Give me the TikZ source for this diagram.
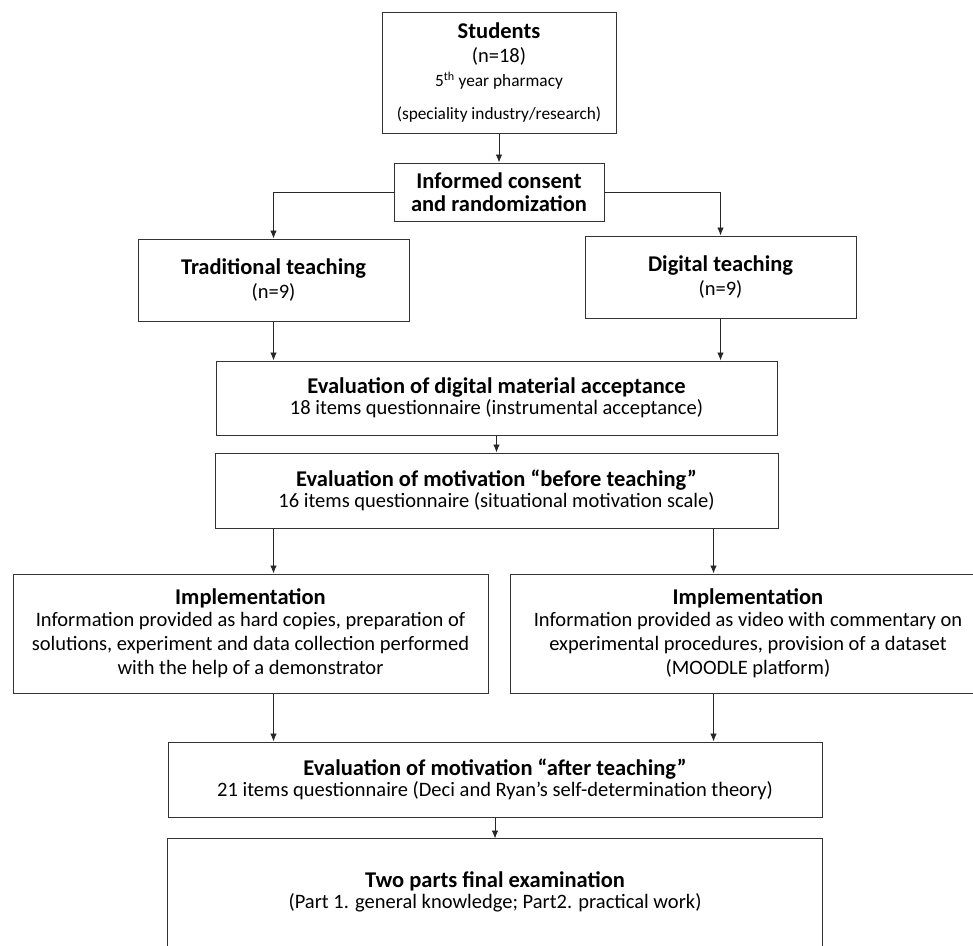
\documentclass[tikz,border=0pt]{standalone}
\usepackage{fontspec}
\setmainfont{Carlito}
\usetikzlibrary{positioning,arrows.meta}

\tikzset{
	stage/.style={draw=black!80, line width=1pt, align=center, inner sep=2pt,
		font=\fontsize{20.5}{24}\selectfont},
	flow/.style={-{Latex[length=8pt,width=6.5pt]}, line width=0.9pt, draw=black!85},
}
\newcommand{\stagehead}[1]{{\fontsize{22.5}{27}\selectfont\bfseries #1}}
\newcommand{\stagesmall}[1]{{\fontsize{17.3}{19}\selectfont #1}}

\begin{document}
\begin{tikzpicture}[x=1pt,y=1pt]
\useasboundingbox (0,0) rectangle (973,-945);

% Students
\node [stage,
	minimum width=234pt,
	minimum height=121pt,
] (students) at (499,-72.5) {
\stagehead{Students}\\
(n=18)\\
\stagesmall{5\textsuperscript{th} year pharmacy}\\[9pt]
\stagesmall{(speciality industry/research)}
};

% Informed consent
\node [stage,
	minimum width=210pt,
	minimum height=58pt,
	below = 29pt of students
] (consent) {
\stagehead{Informed consent}\\[-1pt]
\stagehead{and randomization}
};

% Traditional teaching
\node [stage,
	minimum width=271pt,
	minimum height=82pt,
] (trad) at (273.5,-280) {
\stagehead{Traditional teaching}\\
(n=9)
};

% Digital teaching
\node [stage,
	minimum width=271pt,
	minimum height=82pt,
] (digital) at (720.5,-277) {
\stagehead{Digital teaching}\\
(n=9)
};

% Acceptance
\node [stage,
	minimum width=561pt,
	minimum height=74pt,
] (eval1) at (496.5,-398) {
\stagehead{Evaluation of digital material acceptance}\\[-3pt]
18 items questionnaire (instrumental acceptance)
};

% Motivation before
\node [stage,
	minimum width=563pt,
	minimum height=75pt,
	below = 17pt of eval1
] (eval2) {
\stagehead{Evaluation of motivation “before teaching”}\\[-3pt]
16 items questionnaire (situational motivation scale)
};

% Implementation, traditional
\node [stage,
	minimum width=475pt,
	minimum height=119pt,
] (impl1) at (250.5,-633.5) {
\stagehead{Implementation}\\[-2pt]
Information provided as hard copies, preparation of\\
solutions, experiment and data collection performed\\
with the help of a demonstrator
};

% Implementation, digital
\node [stage,
	minimum width=476pt,
	minimum height=119pt,
	right = 21pt of impl1
] (impl2) {
\stagehead{Implementation}\\[-2pt]
Information provided as video with commentary on\\
experimental procedures, provision of a dataset\\
(MOODLE platform)
};

% Motivation after
\node [stage,
	minimum width=654pt,
	minimum height=75pt,
] (eval3) at (495,-779.5) {
\stagehead{Evaluation of motivation “after teaching”}\\[-3pt]
21 items questionnaire (Deci and Ryan’s self-determination theory)
};

% Final examination
\node [stage,
	draw=none,
	minimum width=654pt,
	minimum height=106pt,
	below = 21pt of eval3
] (final) {
\stagehead{Two parts final examination}\\[-3pt]
(Part 1. general knowledge; Part2. practical work)
};
\draw [draw=black!80, line width=1pt]
	([yshift=-30pt]final.south west) -- (final.north west)
	-- (final.north east) -- ([yshift=-30pt]final.south east);

% Arrows
\draw[flow] (students) -- (consent);
\draw[flow] (consent.west) -| (trad);
\draw[flow] (consent.east) -| (digital);
\draw[flow] (trad) -- (trad |- eval1.north);
\draw[flow] (digital) -- (digital |- eval1.north);
\draw[flow] (eval1) -- (eval2);
\draw[flow] (eval2.south -| trad) -- (trad |- impl1.north);
\draw[flow] ([xshift=-7pt]eval2.south -| digital) -- ([xshift=-7pt]digital |- impl2.north);
\draw[flow] (impl1.south -| trad) -- (trad |- eval3.north);
\draw[flow] ([xshift=-7pt]impl2.south -| digital) -- ([xshift=-7pt]digital |- eval3.north);
\draw[flow] (eval3) -- (final);

\end{tikzpicture}
\end{document}
